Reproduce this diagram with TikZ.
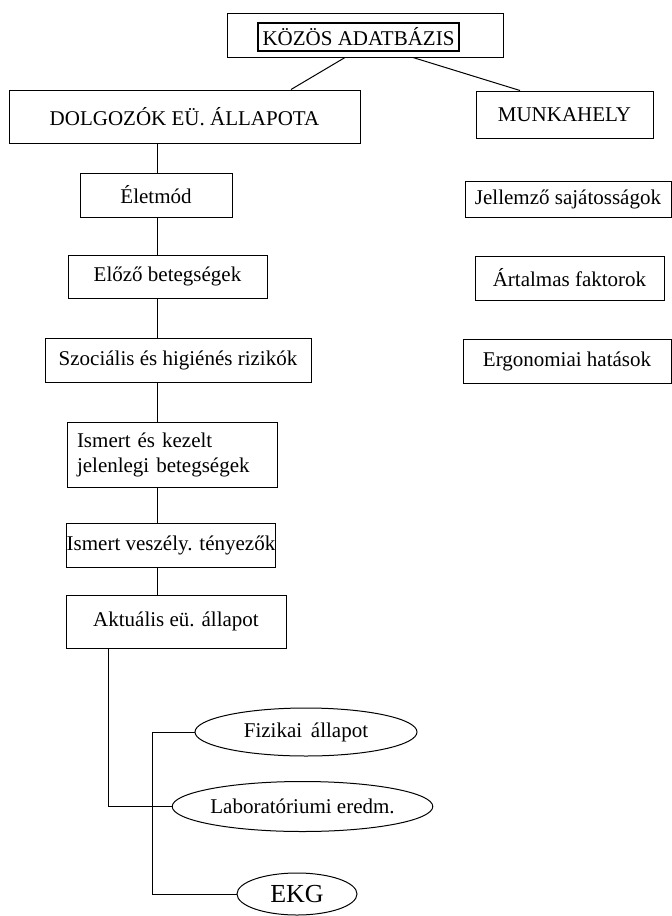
\documentclass[tikz,border=0pt]{standalone}
\usepackage{fontspec}
\setmainfont{Liberation Serif}
\usetikzlibrary{shapes.geometric}
\begin{document}
\begin{tikzpicture}[x=1pt,y=-1pt,line width=1pt,font=\fontsize{21}{25}\selectfont,
  box/.style={draw,rectangle,inner sep=0pt},
  oval/.style={draw,ellipse,inner sep=0pt}]
 \useasboundingbox (0,0) rectangle (672,916);
 \node[box,minimum width=276pt,minimum height=44pt] (adat) at (365,35) {};
 \node[box,line width=1.8pt,minimum width=201pt,minimum height=28pt] (kozos) at (358.5,37) {KÖZÖS ADATBÁZIS};
 \node[box,minimum width=351pt,minimum height=53pt] (dolg) at (184.5,116.5) {DOLGOZÓK EÜ. ÁLLAPOTA};
 \node[box,minimum width=177pt,minimum height=47pt] (munka) at (564.5,114.5) {MUNKAHELY};
 \node[box,minimum width=152pt,minimum height=44pt] (elet) at (156,195) {Életmód};
 \node[box,minimum width=199pt,minimum height=43pt] (elozo) at (167.5,276.5) {Előző betegségek};
 \node[box,minimum width=266pt,minimum height=44pt] (szoc) at (178,360) {Szociális és higiénés rizikók};
 \node[box,text width=190pt,inner xsep=10pt,align=left,minimum height=65pt] (ismk) at (172,454.5) {Ismert és kezelt\\jelenlegi betegségek};
 \node[box,minimum width=208pt,minimum height=44pt] (ismv) at (171,545) {Ismert veszély. tényezők};
 \node[box,minimum width=220pt,minimum height=53pt] (akt) at (176,621.5) {Aktuális eü. állapot};
 \node[box,minimum width=206pt,minimum height=36pt] (jell) at (568,199) {Jellemző sajátosságok};
 \node[box,minimum width=189pt,minimum height=44pt] (art) at (569.5,278) {Ártalmas faktorok};
 \node[box,minimum width=208pt,minimum height=44pt] (ergo) at (567,361) {Ergonomiai hatások};
 \node[oval,minimum width=222pt,minimum height=48pt] (fiz) at (306,732) {Fizikai\, állapot};
 \node[oval,minimum width=215pt,minimum height=50pt] (lab) at (302.5,806.5) {Laboratóriumi eredm.};
 \node[oval,minimum width=120pt,minimum height=42pt,font=\fontsize{26}{26}\selectfont] (ekg) at (297,894) {EKG};
 \coordinate (spine) at (157,0);
 \coordinate (tapa) at (108,0);
 \coordinate (tapb) at (152,0);
 \draw ([xshift=-20pt]adat.south) -- ([xshift=106.5pt]dolg.north);
 \draw ([xshift=48pt]adat.south) -- ([xshift=-44.5pt]munka.north);
 \draw (spine |- dolg.south) -- (spine |- elet.north);
 \draw (spine |- elet.south) -- (spine |- elozo.north);
 \draw (spine |- elozo.south) -- (spine |- szoc.north);
 \draw (spine |- szoc.south) -- (spine |- ismk.north);
 \draw (spine |- ismk.south) -- (spine |- ismv.north);
 \draw (spine |- ismv.south) -- (spine |- akt.north);
 \draw (tapa |- akt.south) |- (lab.west);
 \draw (fiz.west) -| (tapb |- ekg.west) -- (ekg.west);
\end{tikzpicture}
\end{document}
